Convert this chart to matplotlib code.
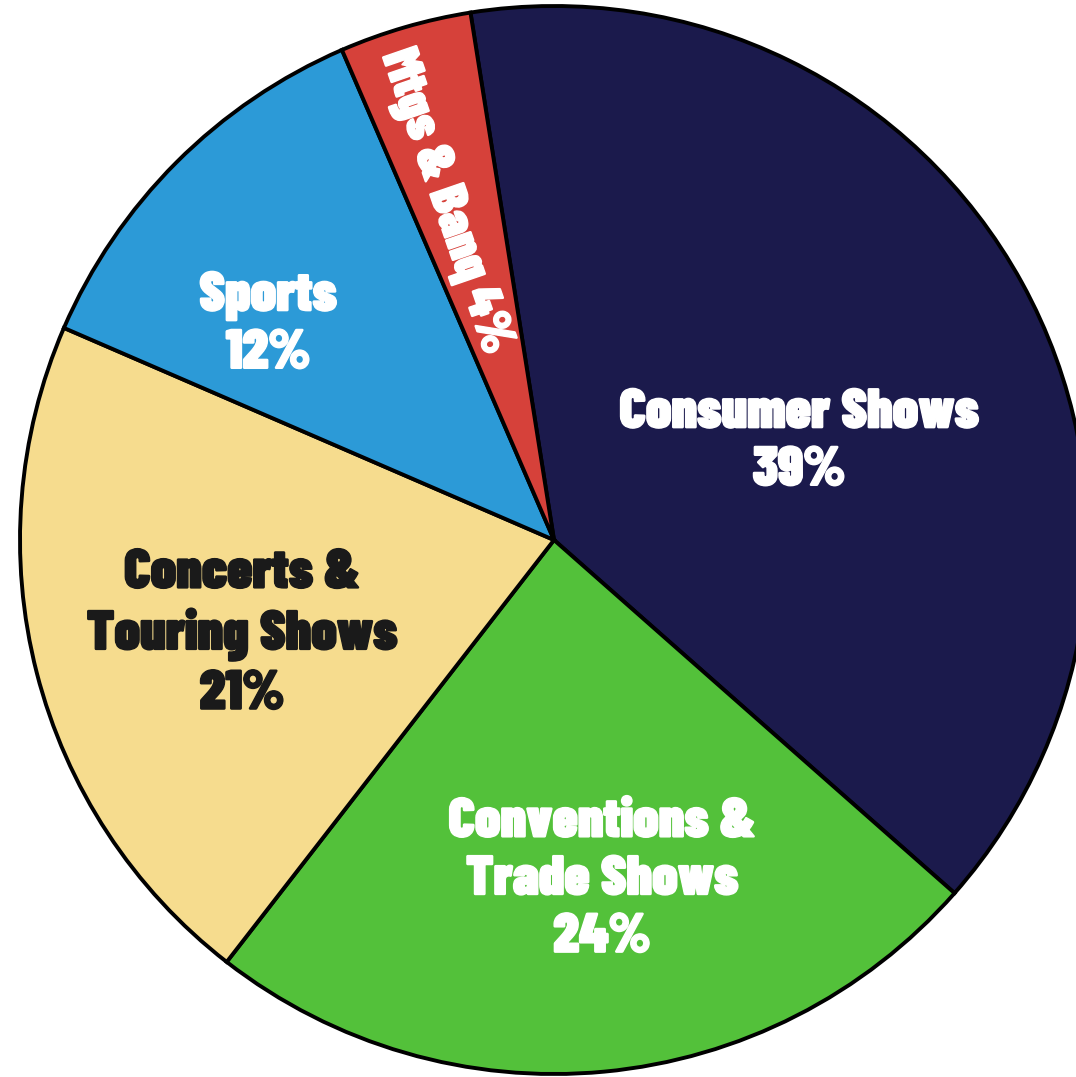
import matplotlib
matplotlib.use("Agg")
import matplotlib.pyplot as plt
import matplotlib.patheffects as pe

# Share of events by type
categories = ["Consumer Shows", "Conventions &\nTrade Shows", "Concerts &\nTouring Shows",
              "Sports", "Mtgs & Banq"]
shares = [39, 24, 21, 12, 4]
colors = ["#1b1a4c", "#53c13a", "#f6dc8e", "#2c9ad7", "#d6413a"]
text_colors = ["white", "white", "#1a1a1a", "white", "white"]

W, H = 1076, 1077
fig = plt.figure(figsize=(W / 100, H / 100), dpi=100)
ax = fig.add_axes([0, 0, 1, 1])

cx, cy, R = 554, H - 540, 534
ax.pie(shares, colors=colors, startangle=99, counterclock=False,
       center=(cx, cy), radius=R, frame=True,
       wedgeprops=dict(edgecolor="black", linewidth=2.8))
ax.set_xlim(0, W)
ax.set_ylim(0, H)
ax.set_aspect("equal")
ax.axis("off")

font = dict(family=["Barlow Condensed", "DejaVu Sans"], weight=900,
            ha="center", va="center", linespacing=1.28)

# label anchor points (pixel coordinates, y measured from top)
label_pos = [(799, 442), (602, 880), (242, 634), (268, 325), (446, 202)]
label_size = [40, 40, 40, 40, 37]
label_rot = [0, 0, 0, 0, -71]

for i, name in enumerate(categories):
    x, y = label_pos[i]
    if i == 4:
        txt = f"{name} {shares[i]}%"
    else:
        txt = f"{name}\n{shares[i]}%"
    t = ax.text(x, H - y, txt, color=text_colors[i], fontsize=label_size[i],
                rotation=label_rot[i], rotation_mode="anchor", **font)
    t.set_path_effects([pe.withStroke(linewidth=1.0, foreground=text_colors[i])])

fig.savefig("out.png", dpi=100, facecolor="white")
